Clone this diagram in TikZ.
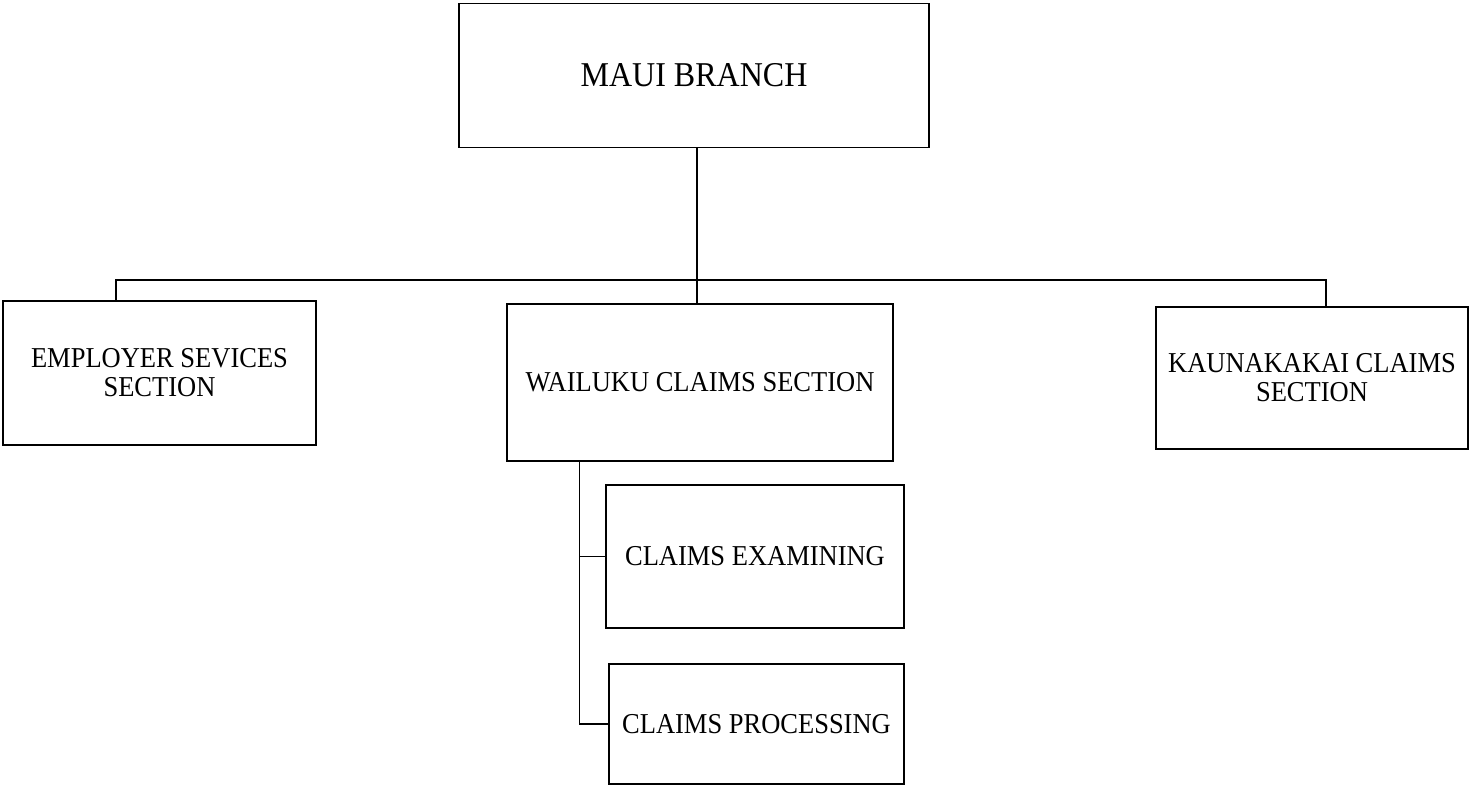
\documentclass[tikz,border=0pt]{standalone}
\usepackage{fontspec}
\setmainfont{Liberation Serif}[FakeStretch=0.92]
\begin{document}
\begin{tikzpicture}[x=1pt,y=1pt,
  orgbox/.style={draw=black, line width=1.8pt, rectangle, inner sep=0pt, align=center,
    font=\fontsize{28.8}{29}\selectfont},
  topbox/.style={orgbox, font=\fontsize{34.8}{38}\selectfont},
  link/.style={draw=black, line width=1.1pt}]
\useasboundingbox (0,0) rectangle (1470,-786);
\fill[white] (0,0) rectangle (1470,-786);
\node[topbox, minimum width=470pt, minimum height=144pt] (maui) at (694,-75.5) {MAUI BRANCH};
\node[orgbox, minimum width=313pt, minimum height=144pt] (emp) at (159.5,-373) {EMPLOYER SEVICES\\SECTION};
\node[orgbox, minimum width=386pt, minimum height=157pt] (wai) at (700,-382.5) {WAILUKU CLAIMS SECTION};
\node[orgbox, minimum width=312pt, minimum height=142pt] (kau) at (1312,-378) {KAUNAKAKAI CLAIMS\\SECTION};
\node[orgbox, minimum width=298pt, minimum height=143pt] (exam) at (755,-556.5) {CLAIMS EXAMINING};
\node[orgbox, minimum width=295pt, minimum height=120pt] (proc) at (756.5,-724) {CLAIMS PROCESSING};
\coordinate (bus) at (697,-280);
\coordinate (busL) at (116,-280);
\coordinate (busR) at (1326,-280);
\coordinate (sub) at (579.5,0);
\draw[link] (maui.south -| bus) -- (wai.north -| bus);
\draw[link] (emp.north -| busL) -- (busL) -- (busR) -- (kau.north -| busR);
\draw[link] (wai.south -| sub) |- (exam.west);
\draw[link] (wai.south -| sub) |- (proc.west);
\end{tikzpicture}
\end{document}
